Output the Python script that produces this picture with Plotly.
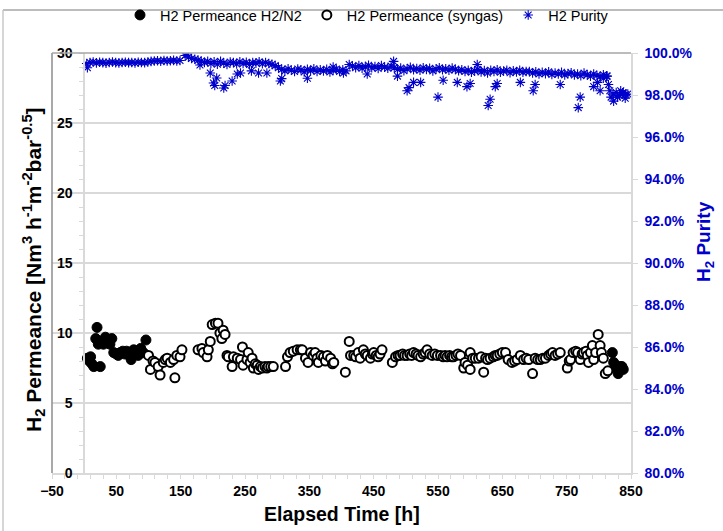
import plotly.graph_objects as go

# ---------------- data ----------------
# H2 permeance measured with H2/N2 feed (filled circles)
perm_n2_x = [5, 8, 10, 12, 15, 18, 20, 22, 25, 28, 30, 33, 36, 40, 43, 46, 50, 53, 56, 60,
             63, 66, 70, 73, 77, 80, 84, 88, 92, 96,
             821, 823, 826, 828, 830, 833, 836, 838]
perm_n2_y = [8.2, 8.0, 8.3, 7.8, 7.6, 9.6, 10.4, 9.2, 7.6, 9.4, 9.2, 9.7, 9.5, 9.2, 9.6, 8.6, 8.5, 8.4, 8.6, 8.7,
             8.5, 8.7, 8.4, 8.1, 8.8, 8.7, 8.4, 8.9, 8.6, 9.5,
             8.6, 7.9, 7.7, 7.5, 7.1, 7.6, 7.6, 7.4]

# H2 permeance measured with syngas feed (open circles)
perm_syn_x = [100, 103, 107, 110, 115, 118, 123, 126, 129, 134, 139, 141, 144, 149, 152,
              177, 183, 185, 191, 193, 196, 199, 204, 208, 211, 214, 216, 219, 222, 224, 230, 232,
              238, 243, 246, 247, 253, 255, 258, 261, 263, 266, 269, 271, 274, 277, 281, 284, 286, 290, 294,
              313, 316, 320, 325, 331, 336, 339, 344, 348, 352, 356, 359, 362, 364, 368, 372, 375, 378,
              383, 386, 388,
              406, 412, 414, 419, 422, 426, 429, 434, 437, 440, 445, 448, 450, 454, 457, 460, 463,
              479, 484, 488, 491, 495, 498, 502, 506, 509, 512, 516, 519, 523, 527, 530, 533, 537, 541,
              545, 549, 554, 558, 561, 564, 568, 571, 574, 578, 581, 585, 590, 592, 596, 600, 600, 604,
              608, 613, 617, 621, 624, 627, 631, 636, 639, 642, 646, 650, 655, 659, 665, 669, 673, 678,
              683, 687, 691, 697, 701, 705, 709, 713, 717, 722, 725, 728, 732, 736, 740, 751, 754, 756,
              760, 764, 767, 771, 774, 776, 780, 782, 784, 787, 790, 792, 795, 799, 802, 804, 807, 810, 814]
perm_syn_y = [8.4, 7.4, 8.0, 7.9, 7.6, 7.0, 7.9, 8.1, 8.2, 7.9, 8.1, 6.8, 8.4, 8.3, 8.8,
              8.8, 8.9, 8.6, 8.3, 8.8, 9.4, 10.6, 10.7, 10.7, 10.0, 9.6, 10.2, 9.9, 8.4, 8.3, 7.6, 8.3,
              8.2, 8.1, 9.0, 7.7, 8.1, 8.6, 7.9, 8.2, 7.5, 7.8, 7.7, 7.4, 7.6, 7.5, 7.6, 7.5, 7.6, 7.6, 7.6,
              7.6, 8.3, 8.6, 8.7, 8.8, 8.8, 8.8, 8.2, 7.9, 8.6, 8.4, 8.6, 8.2, 7.9, 8.4, 8.3, 8.0, 8.4,
              8.2, 7.8, 7.9,
              7.2, 9.4, 8.4, 8.4, 8.3, 8.6, 8.2, 8.8, 8.5, 8.4, 8.2, 8.5, 8.6, 8.4, 8.3, 8.5, 8.8,
              7.9, 8.3, 8.4, 8.4, 8.5, 8.4, 8.4, 8.5, 8.4, 8.6, 8.5, 8.4, 8.3, 8.5, 8.6, 8.8, 8.5, 8.4,
              8.5, 8.4, 8.4, 8.3, 8.4, 8.3, 8.4, 8.3, 8.3, 8.4, 8.5, 8.4, 7.5, 7.9, 7.7, 8.6, 7.4, 8.2,
              8.2, 8.2, 8.3, 7.2, 8.2, 8.1, 8.2, 8.3, 8.4, 8.4, 8.5, 8.6, 8.6, 8.1, 7.9, 8.0, 8.1, 8.4,
              8.1, 8.2, 8.1, 7.1, 8.2, 8.1, 8.1, 8.2, 8.2, 8.4, 8.5, 8.6, 8.4, 8.5, 8.6, 7.5, 8.0, 8.1,
              8.6, 8.7, 8.6, 8.1, 8.5, 8.6, 8.7, 8.4, 7.9, 8.6, 9.1, 8.1, 8.6, 9.9, 9.1, 8.6, 8.2, 7.1, 7.3]

# H2 purity [%] (right axis)
purity_x = [4, 9, 14, 19, 24, 29, 34, 39, 44, 49, 54, 59, 64, 69, 74, 79, 84, 89, 94, 99,
            104, 109, 114, 119, 124, 129, 134, 139, 144, 149,
            157, 162, 167, 172, 177, 182, 187, 192, 197, 202, 207, 212, 217, 222, 227, 232, 237, 242,
            247, 252, 257, 262, 267, 272, 277, 282, 287, 292, 297, 302, 307, 312, 317, 322, 327, 332,
            337, 342, 347, 352, 357, 362, 367, 372, 377, 382, 387, 392, 397, 402, 407, 412, 417, 422,
            427, 432, 437, 442, 447, 452, 457, 462, 467, 472, 477, 482, 487, 492, 497, 502, 507, 512,
            517, 522, 527, 532, 537, 542, 547, 552, 557, 562, 567, 572, 577, 582, 587, 592, 597, 602,
            607, 612, 617, 622, 627, 632, 637, 642, 647, 652, 657, 662, 667, 672, 677, 682, 687, 692,
            697, 702, 707, 712, 717, 722, 727, 732, 737, 742, 747, 752, 757, 762, 767, 772, 777, 782,
            787, 792, 797, 802, 807, 812, 817, 822, 827, 832, 837, 842]
purity_y = [99.50, 99.55, 99.57, 99.53, 99.56, 99.54, 99.52, 99.55, 99.57, 99.54, 99.53, 99.55, 99.56, 99.54,
            99.55, 99.53, 99.56, 99.55, 99.54, 99.57, 99.60, 99.62, 99.63, 99.61, 99.64, 99.62, 99.63, 99.65,
            99.62, 99.64,
            99.88, 99.80, 99.74, 99.70, 99.66,
            99.62, 99.55, 99.60, 99.50, 99.58, 99.47, 99.60, 99.52, 99.45, 99.57,
            99.55, 99.48, 99.58, 99.50, 99.56, 99.45, 99.55, 99.52, 99.58, 99.49, 99.55, 99.50, 99.46, 99.40,
            99.30, 99.22, 99.15, 99.25, 99.18, 99.12, 99.24, 99.20, 99.10, 99.22, 99.16, 99.25, 99.12, 99.20,
            99.14, 99.22, 99.10, 99.18, 99.24, 99.12, 99.20, 99.15,
            99.45, 99.38, 99.30, 99.40, 99.28, 99.35, 99.42, 99.30, 99.36, 99.26, 99.40, 99.32, 99.28, 99.38,
            99.30, 99.22, 99.28, 99.16, 99.25, 99.32, 99.20, 99.26, 99.18, 99.30, 99.22, 99.27, 99.15, 99.24,
            99.30, 99.20, 99.25, 99.18, 99.28, 99.22, 99.16,
            99.20, 99.12, 99.18, 99.08, 99.15, 99.22, 99.10, 99.16, 99.05, 99.18, 99.12, 99.20, 99.08, 99.14,
            99.18, 99.06, 99.15, 99.10, 99.18, 99.08, 99.12,
            99.12, 99.05, 99.10, 99.00, 99.08, 99.02, 99.10, 98.98, 99.05, 99.00, 99.08, 98.96, 99.02, 99.06,
            98.95, 99.00, 98.92, 99.04, 98.96, 98.90, 99.00, 98.93, 98.88, 98.96, 98.90,
            98.20, 98.05, 98.12, 97.98, 98.10, 98.02]

# scattered low / high purity readings
purity_out_x = [5, 160, 180, 196, 201, 203, 206, 217, 219, 230, 238, 243, 260, 271, 284, 305, 307, 347,
                387, 403, 440, 481, 487, 502, 505, 512, 523, 550, 558, 580, 595, 600, 611, 628, 631,
                639, 642, 678, 698, 701, 740, 768, 771, 792, 798, 802, 807, 813, 815, 819, 823, 829,
                834, 838, 841, 845]
purity_out_y = [99.30, 99.95, 99.43, 99.05, 98.57, 98.45, 98.81, 98.33, 98.45, 98.67, 99.00, 99.05, 99.15,
                99.05, 99.05, 98.67, 98.78, 98.80, 99.33, 99.05, 99.00, 99.60, 98.90, 98.20, 98.35, 98.60,
                98.60, 97.90, 98.70, 98.60, 98.40, 98.55, 99.45, 97.50, 97.80, 98.40, 98.55, 98.60, 98.20,
                98.50, 98.50, 97.40, 97.90, 98.40, 98.60, 98.20, 98.80, 98.90, 98.50, 97.90, 97.71, 97.90,
                98.20, 98.10, 97.85, 98.05]

x_ticks = [-50, 50, 150, 250, 350, 450, 550, 650, 750, 850]
y_ticks = [0, 5, 10, 15, 20, 25, 30]
y2_ticks = [80, 82, 84, 86, 88, 90, 92, 94, 96, 98, 100]
y2_labels = ["80.0%", "82.0%", "84.0%", "86.0%", "88.0%", "90.0%", "92.0%", "94.0%", "96.0%",
             "98.0%", "100.0%"]

# ---------------- figure ----------------
FONT = "Liberation Sans, Arial, sans-serif"
BLUE = "#0000CC"
GRID = "#D9D9D9"

fig = go.Figure()

fig.add_trace(go.Scatter(
    x=perm_n2_x, y=perm_n2_y, mode="markers", name="H2 Permeance H2/N2",
    marker=dict(symbol="circle", size=10, color="black", line=dict(color="black", width=1)),
    yaxis="y"))

fig.add_trace(go.Scatter(
    x=perm_syn_x, y=perm_syn_y, mode="markers", name="H2 Permeance (syngas)",
    marker=dict(symbol="circle", size=9, color="white", line=dict(color="black", width=2)),
    yaxis="y"))

fig.add_trace(go.Scatter(
    x=purity_x + purity_out_x, y=purity_y + purity_out_y, mode="markers", name="H2 Purity",
    marker=dict(symbol="asterisk-open", size=8, color=BLUE, line=dict(color=BLUE, width=1.1)),
    yaxis="y2"))

W, H = 723, 531
L, R, T, B = 52, 631, 53, 473
pw, ph = R - L, B - T


def px_x(px):
    return (px - L) / pw


def px_y(py):
    return (B - py) / ph


fig.update_layout(
    width=W, height=H,
    margin=dict(l=L, r=W - R, t=T, b=H - B, autoexpand=False),
    paper_bgcolor="white", plot_bgcolor="white",
    font=dict(family=FONT, color="black"),
    showlegend=True,
    legend=dict(orientation="h", x=px_x(120), xanchor="left", y=px_y(15), yanchor="middle",
                font=dict(family=FONT, size=14.5, color="black"), bgcolor="rgba(0,0,0,0)",
                itemwidth=30, tracegroupgap=0),
    xaxis=dict(range=[-50, 850], tickvals=x_ticks, ticks="outside", ticklen=4, tickcolor=GRID,
               showline=True, linecolor=GRID, linewidth=1.5, showgrid=False, zeroline=False,
               tickfont=dict(family=FONT, size=14, color="black", weight="bold"),
               minor=dict(tick0=-50, dtick=20, ticks="outside", ticklen=4, tickcolor=GRID),
               anchor="y"),
    yaxis=dict(range=[0, 30], tickvals=y_ticks, ticks="outside", ticklen=4, tickcolor=GRID,
               showline=True, linecolor=GRID, linewidth=1.5, showgrid=True, gridcolor=GRID,
               gridwidth=1.5, zeroline=False, anchor="free", position=50 / 900,
               ticklabelstandoff=4,
               tickfont=dict(family=FONT, size=14, color="black", weight="bold"),
               minor=dict(dtick=1, ticks="outside", ticklen=4, tickcolor=GRID, showgrid=False)),
    yaxis2=dict(range=[80, 100], tickvals=y2_ticks, ticktext=y2_labels,
                overlaying="y", side="right", anchor="x", ticks="outside", ticklen=5,
                tickcolor=GRID, showline=True, linecolor=GRID, linewidth=1.5, showgrid=False,
                zeroline=False, ticklabelstandoff=4,
                tickfont=dict(family=FONT, size=14, color=BLUE, weight="bold")),
    shapes=[
        # plot-area frame: left and top edges
        dict(type="line", xref="paper", yref="paper", x0=0, x1=0, y0=0, y1=1,
             line=dict(color="#8C8C8C", width=1.5)),
        dict(type="line", xref="paper", yref="paper", x0=0, x1=1, y0=1, y1=1,
             line=dict(color="#A6A6A6", width=1.5)),
        # outer chart border
        dict(type="line", xref="paper", yref="paper", x0=px_x(3), x1=px_x(723), y0=px_y(10), y1=px_y(10),
             line=dict(color="#A6A6A6", width=1.5)),
        dict(type="line", xref="paper", yref="paper", x0=px_x(3), x1=px_x(3), y0=px_y(10), y1=px_y(531),
             line=dict(color="#C8C8C8", width=1.5)),
    ],
    annotations=[
        dict(text="<b>Elapsed Time [h]</b>", xref="paper", yref="paper", x=0.5, y=px_y(514),
             xanchor="center", yanchor="middle", showarrow=False,
             font=dict(family=FONT, size=19.5, color="black")),
        dict(text="<b>H<sub>2</sub> Permeance [Nm<sup>3</sup> h<sup>-1</sup>m<sup>-2</sup>bar<sup>-0.5</sup>]</b>",
             xref="paper", yref="paper", x=px_x(33), y=px_y(270), textangle=-90,
             xanchor="center", yanchor="middle", showarrow=False,
             font=dict(family=FONT, size=21, color="black")),
        dict(text="<b>H<sub>2</sub> Purity</b>", xref="paper", yref="paper", x=px_x(705), y=px_y(242),
             textangle=-90, xanchor="center", yanchor="middle", showarrow=False,
             font=dict(family=FONT, size=19, color=BLUE)),
    ],
)

fig.write_html("out.html", config={"displayModeBar": False},
               post_script="document.body.style.margin='0';")
